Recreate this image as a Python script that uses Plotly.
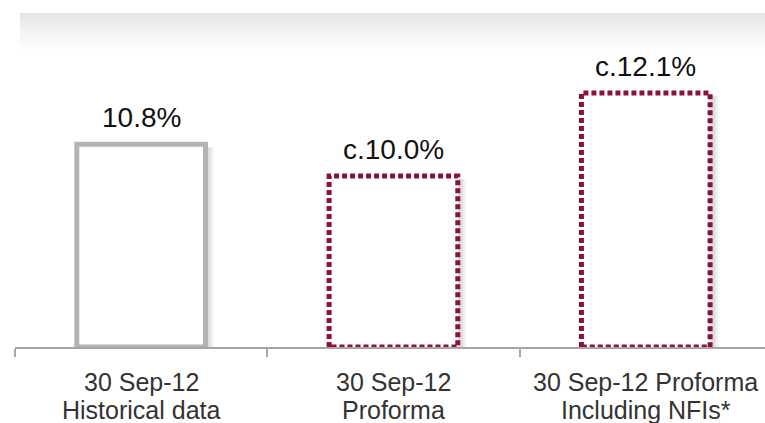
import plotly.graph_objects as go

# ---- data -------------------------------------------------------------
label_line1 = ["30 Sep-12", "30 Sep-12", "30 Sep-12 Proforma"]
label_line2 = ["Historical data", "Proforma", "Including NFIs*"]
ratios = [10.8, 10.0, 12.1]
value_text = ["10.8%", "c.10.0%", "c.12.1%"]

# ---- styling ----------------------------------------------------------
W, H = 765, 423
ML, MR, MT, MB = 15, 0, 0, 76
axis_floor = 5.67            # value at the baseline of the value axis
px_per_unit = 39.5
plot_h = H - MT - MB
y_top = axis_floor + plot_h / px_per_unit
cat_px = 252.3
x_range = [-0.5, -0.5 + (W - ML - MR) / cat_px]
bar_w = 0.51

GREY = "#b3b3b3"
MAROON = "#8c0f3f"
outline_color = [GREY, MAROON, MAROON]
outline_dash = ["solid", "5px,3px", "5px,3px"]
FONT = "Liberation Sans, Arial"

fig = go.Figure()

dx = 3 / cat_px
dy = 3 / px_per_unit
for i, v in enumerate(ratios):
    x0, x1 = i - bar_w / 2, i + bar_w / 2
    # soft drop shadow on the right-hand side
    for width, alpha in [(10, 0.05), (5, 0.08)]:
        fig.add_trace(go.Scatter(
            x=[x1 + dx, x1 + dx, x0 + 2 * dx],
            y=[v - dy, axis_floor - dy, axis_floor - dy],
            mode="lines", line=dict(color=f"rgba(0,0,0,{alpha})", width=width),
            hoverinfo="skip", showlegend=False))
    # bar body with its outline
    fig.add_trace(go.Scatter(
        x=[x0, x0, x1, x1, x0],
        y=[axis_floor, v, v, axis_floor, axis_floor],
        mode="lines", fill="toself", fillcolor="white",
        line=dict(color=outline_color[i], width=5, dash=outline_dash[i]),
        hoverinfo="skip", showlegend=False))
    # value label
    fig.add_annotation(x=i, y=v, text=value_text[i], showarrow=False,
                       xref="x", yref="y", yanchor="bottom", yshift=9,
                       font=dict(family=FONT, size=28, color="#111111"))
    # category label (two lines)
    fig.add_annotation(x=i, y=0, text=label_line1[i], showarrow=False,
                       xref="x", yref="paper", yanchor="top", yshift=-19,
                       font=dict(family=FONT, size=25, color="#333333"))
    fig.add_annotation(x=i, y=0, text=label_line2[i], showarrow=False,
                       xref="x", yref="paper", yanchor="top", yshift=-47,
                       font=dict(family=FONT, size=25, color="#333333"))

# grey header band fading downwards
shapes = []
band_top, band_bot = 13, 52
n = 20
for k in range(n):
    p0 = band_top + (band_bot - band_top) * k / n
    p1 = band_top + (band_bot - band_top) * (k + 1) / n
    a = 0.55 * (1 - k / n) ** 1.3
    shapes.append(dict(
        type="rect", xref="paper", yref="paper", layer="below",
        x0=(20 - ML) / (W - ML - MR), x1=1.0,
        y0=(plot_h - p1) / plot_h, y1=(plot_h - p0) / plot_h,
        line=dict(width=0), fillcolor=f"rgba(205,205,205,{a:.3f})"))

fig.update_layout(
    width=W, height=H,
    margin=dict(l=ML, r=MR, t=MT, b=MB),
    paper_bgcolor="white", plot_bgcolor="white",
    shapes=shapes,
    xaxis=dict(range=x_range, showgrid=False, zeroline=False,
               showline=True, linecolor="#a6a6a6", linewidth=2,
               tickmode="array", tickvals=[-0.5, 0.5, 1.5, 2.5],
               ticktext=["", "", "", ""], ticks="outside", ticklen=8,
               tickwidth=2, tickcolor="#a6a6a6"),
    yaxis=dict(range=[axis_floor, y_top], visible=False, showgrid=False,
               zeroline=False),
)

fig.write_html("out.html")
